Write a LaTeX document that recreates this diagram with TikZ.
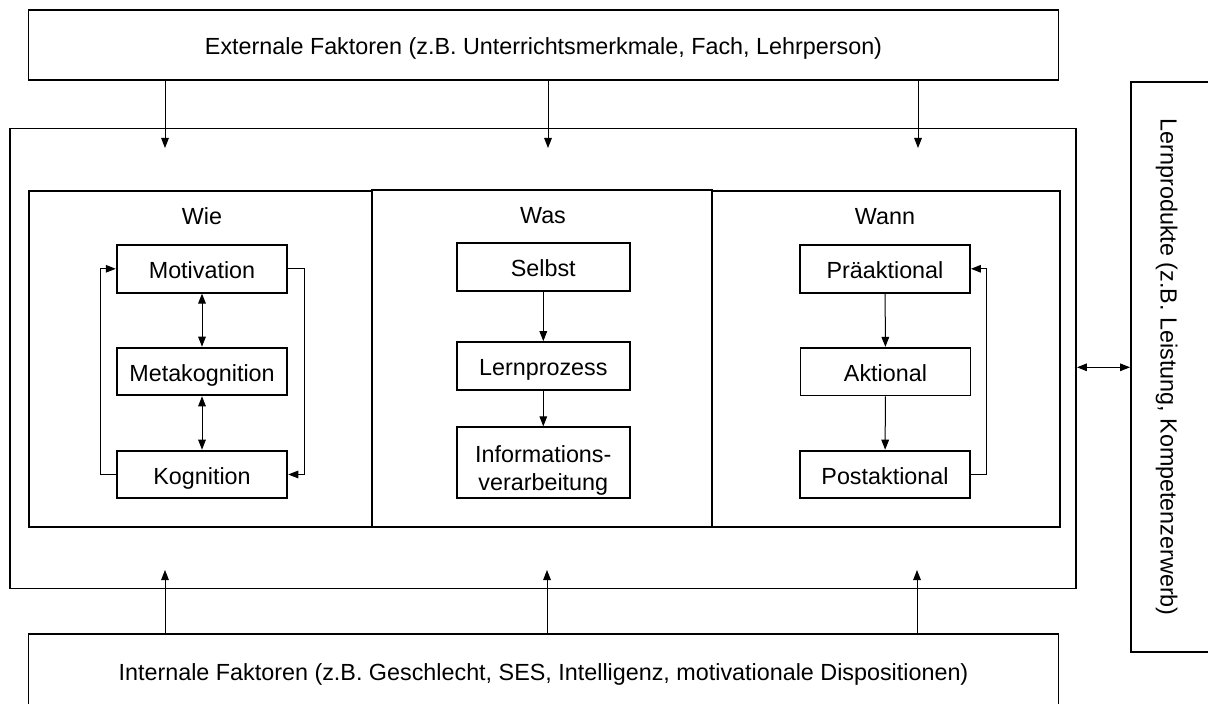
\documentclass[tikz,border=0pt]{standalone}
\usepackage{fontspec}
\setmainfont{Liberation Sans}
\usetikzlibrary{arrows.meta}
\begin{document}
\begin{tikzpicture}[x=0.5pt,y=-0.5pt,
  font=\fontsize{11.67}{13.85}\selectfont,
  box/.style={draw, line width=0.95pt, inner sep=0pt, align=center},
  oneline/.style={text height=10.5pt, text depth=0.6pt},
  stagebox/.style={box, oneline, minimum width=85.3pt, minimum height=23.85pt},
  lab/.style={inner sep=0pt, oneline},
  arr/.style={line width=0.5pt, -{Triangle[length=5pt,width=3.8pt]}},
  dbl/.style={line width=0.5pt, {Triangle[length=5pt,width=3.8pt]}-{Triangle[length=5pt,width=3.8pt]}}]
\useasboundingbox (0,0) rectangle (1208,704);
\clip (0,0) rectangle (1208,704);

% external / internal factors and the central frame
\node[box, oneline, minimum width=515pt, minimum height=35pt] (ext) at (543.5,45) {Externale Faktoren (z.B. Unterrichtsmerkmale, Fach, Lehrperson)};
\node[box, minimum width=533pt, minimum height=230pt] (outer) at (543,358.5) {};
\node[box, oneline, minimum width=515pt, minimum height=36.5pt] (int) at (543.5,670.5) {Internale Faktoren (z.B. Geschlecht, SES, Intelligenz, motivationale Dispositionen)};

% learning products, read from top to bottom
\node[box, oneline, rotate=-90, minimum width=285pt, minimum height=39.5pt] (lern) at (1170.5,367.3) {Lernprodukte (z.B. Leistung, Kompetenzerwerb)};

% three panels
\node[box, minimum width=171.5pt, minimum height=168pt] (wie) at (200.5,359) {};
\node[box, minimum width=170pt, minimum height=168.5pt] (was) at (542,358.5) {};
\node[box, minimum width=174pt, minimum height=168pt] (wann) at (886,359) {};

\node[lab] (wielab) at (202,215) {Wie};
\node[lab] (waslab) at (543,213.5) {Was};
\node[lab] (wannlab) at (885,215) {Wann};

% Wie
\node[stagebox] (mot) at (202,268.8) {Motivation};
\node[stagebox] (meta) at (202,371.5) {Metakognition};
\node[stagebox] (kog) at (202,474.5) {Kognition};
\draw[dbl] (mot.south) -- (meta.north);
\draw[dbl] (meta.south) -- (kog.north);
\draw[arr] (kog.west) -- ++(-15,0) |- (mot.west);
\draw[arr] (mot.east) -- ++(16,0) |- (kog.east);

% Was
\node[stagebox, minimum width=86.7pt] (selbst) at (543.3,267) {Selbst};
\node[stagebox, minimum width=86.7pt] (lproz) at (543.3,366) {Lernprozess};
\node[box, minimum width=86.7pt, minimum height=35.5pt] (info) at (543.3,462.8)
  {\raisebox{-7.1pt}[0pt][0pt]{\begin{tabular}{@{}c@{}}Informations-\\verarbeitung\end{tabular}}};
\draw[arr] (selbst) -- (lproz);
\draw[arr] (lproz) -- (info);

% Wann
\node[stagebox, minimum width=85pt] (prae) at (885,268.8) {Präaktional};
\node[stagebox, minimum width=85pt] (akt) at (885.5,371.7) {Aktional};
\node[stagebox, minimum width=85pt] (post) at (885,474.5) {Postaktional};
\draw[arr] (prae) -- (akt);
\draw[arr] (akt) -- (post);
\draw[arr] (post.east) -- ++(15.7,0) |- (prae.east);

% influences on the central frame
\coordinate (t1) at (165,148);
\coordinate (t2) at (548,148);
\coordinate (t3) at (918,148);
\draw[arr] (t1 |- ext.south) -- (t1);
\draw[arr] (t2 |- ext.south) -- (t2);
\draw[arr] (t3 |- ext.south) -- (t3);

\coordinate (b1) at (165,570);
\coordinate (b2) at (547,570);
\coordinate (b3) at (917,570);
\draw[arr] (b1 |- int.north) -- (b1);
\draw[arr] (b2 |- int.north) -- (b2);
\draw[arr] (b3 |- int.north) -- (b3);

% exchange between the frame and the learning products
\draw[dbl] (lern.south -| outer.east) -- (lern.south);
\end{tikzpicture}
\end{document}
